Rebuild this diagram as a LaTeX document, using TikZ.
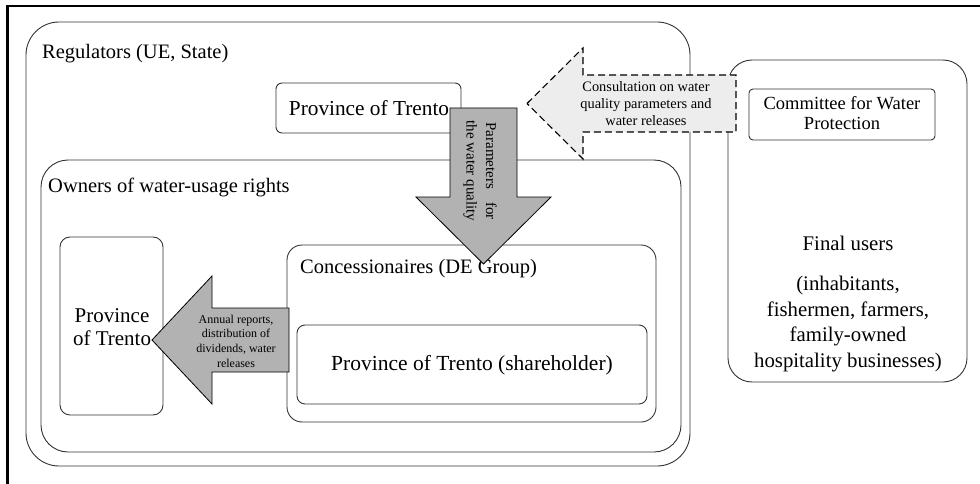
\documentclass[tikz,border=0pt]{standalone}
\usepackage{fontspec}
\setmainfont{Liberation Serif}
\begin{document}
\begin{tikzpicture}[x=1pt,y=-1pt,
  grp/.style={draw=black!80, line width=0.9pt, inner sep=0pt, outer sep=0pt},
  lbl/.style={font=\fontsize{20.5}{24}\selectfont, anchor=west, inner sep=0pt},
  big/.style={font=\fontsize{20.8}{25.5}\selectfont, align=center, inner sep=0pt},
  small/.style={font=\fontsize{12}{14.7}\selectfont, align=center, inner sep=0pt},
  mid/.style={font=\fontsize{14.4}{17}\selectfont, align=center, inner sep=0pt},
  darrow/.style={draw=black, line width=0.8pt, fill=black!30, line join=miter},
  larrow/.style={draw=black, line width=1.1pt, fill=black!7, dash pattern=on 7pt off 4pt}
]
\useasboundingbox (0,0) rectangle (980,484);
% outer frame (left and top only)
\draw[line width=2.4pt] (7.5,484) -- (7.5,6) -- (980,6);

% groups
\node[grp, rounded corners=33pt, minimum width=664pt, minimum height=444pt] (reg) at (358,244) {};
\node[lbl] (reglbl) at (42,53.5) {Regulators (UE, State)};
\node[grp, rounded corners=27pt, minimum width=640pt, minimum height=292pt] (own) at (361,306) {};
\node[lbl] (ownlbl) at (48,187) {Owners of water-usage rights};

\node[grp, rounded corners=6pt, minimum width=185pt, minimum height=50pt] (provtop) at (368.5,108) {};
\node[big, font=\fontsize{21.3}{25}\selectfont] (provtoptxt) at (369,108) {Province of Trento};

\node[grp, rounded corners=15pt, minimum width=369pt, minimum height=177pt] (conc) at (471.5,333.5) {};
\node[lbl] (conclbl) at (300,268.5) {Concessionaires (DE Group)};
\node[grp, rounded corners=8pt, minimum width=350pt, minimum height=79pt] (share) at (472,364.5) {};
\node[big, font=\fontsize{21.5}{25}\selectfont] (sharetxt) at (472,365) {Province of Trento (shareholder)};

\node[grp, rounded corners=10pt, minimum width=103pt, minimum height=178pt] (provleft) at (111.5,326) {};
\node[big, font=\fontsize{21}{23}\selectfont] (provlefttxt) at (112,327.5) {Province\\of Trento};

\node[grp, rounded corners=24pt, minimum width=239pt, minimum height=322pt] (final) at (847.5,221) {};
\node[grp, rounded corners=4pt, minimum width=186pt, minimum height=51pt] (comm) at (842,114.5) {};
\node[big, font=\fontsize{18.5}{20}\selectfont] (commtxt) at (842,113) {Committee for Water\\Protection};
\node[big] (fu1) at (848,243) {Final users};
\node[big] (fu2) at (848,324) {(inhabitants,\\fishermen, farmers,\\family-owned\\hospitality businesses)};

% arrows
\draw[darrow] (450,108) -- (517,108) -- (517,197) -- (551,197) -- (483.5,264) -- (416,197) -- (450,197) -- cycle;
\node[font=\fontsize{15}{19.5}\selectfont, align=center, inner sep=0pt, rotate=-90] (param) at (480,171)
  {\makebox[97pt][s]{Parameters for}\\the water quality};

\draw[darrow] (152,340) -- (212,276) -- (212,308) -- (289,308) -- (289,372) -- (212,372) -- (212,404) -- cycle;
\node[small] (annual) at (236,341) {Annual reports,\\distribution of\\dividends, water\\releases};

\draw[larrow] (527,103.5) -- (583,48) -- (583,75) -- (736,75) -- (736,132) -- (583,132) -- (583,159) -- cycle;
\node[mid] (consult) at (646,104) {Consultation on water\\quality parameters and\\water releases};
\end{tikzpicture}
\end{document}
